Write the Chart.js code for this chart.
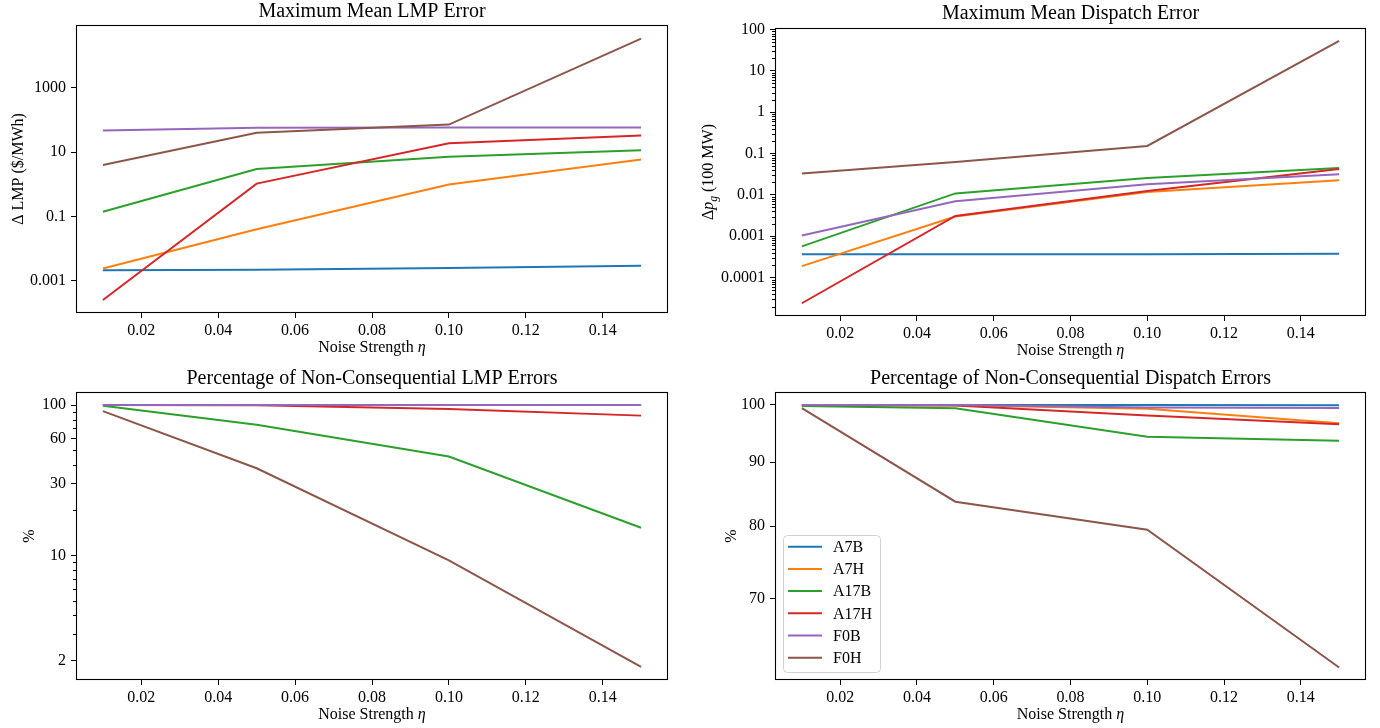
<!DOCTYPE html>
<html><head><meta charset="utf-8">
<script src="https://cdn.jsdelivr.net/npm/chart.js@4.4.1/dist/chart.umd.min.js"></script>
<style>
html,body{margin:0;padding:0;background:#fff;}
body{width:1380px;height:728px;position:relative;overflow:hidden;}
canvas{position:absolute;}
</style></head><body>
<canvas id="c1" width="690" height="364" style="left:0;top:0"></canvas>
<canvas id="c2" width="690" height="364" style="left:690px;top:0"></canvas>
<canvas id="c3" width="690" height="364" style="left:0;top:364px"></canvas>
<canvas id="c4" width="690" height="364" style="left:690px;top:364px"></canvas>
<script>
// ---------- data ----------
const noiseStrength = [0.01, 0.05, 0.10, 0.15];
const seriesNames = ['A7B', 'A7H', 'A17B', 'A17H', 'F0B', 'F0H'];
const seriesColors = ['#1f77b4', '#ff7f0e', '#2ca02c', '#d62728', '#9467bd', '#8c564b'];

// Maximum mean LMP error ($/MWh), one row per series
const lmpMaxError = [
  [0.0021, 0.0022, 0.0025, 0.0029],
  [0.0024, 0.040, 0.99, 5.9],
  [0.14, 3.0, 7.2, 11.5],
  [0.00025, 1.05, 19, 33],
  [47, 58, 59, 59],
  [4.0, 40, 72, 34000]
];
// Maximum mean dispatch error (100 MW)
const dispatchMaxError = [
  [0.00037, 0.00037, 0.00037, 0.00038],
  [0.00019, 0.0030, 0.0118, 0.0226],
  [0.00057, 0.0109, 0.0257, 0.045],
  [0.000024, 0.0031, 0.0124, 0.0424],
  [0.00105, 0.0070, 0.0181, 0.0316],
  [0.033, 0.063, 0.153, 53]
];
// Percentage of non-consequential LMP errors
const lmpPctNonConsequential = [
  [100, 100, 100, 100],
  [100, 100, 100, 100],
  [99, 74, 45.5, 15.3],
  [100, 99.5, 94, 85],
  [100, 100, 100, 100],
  [91, 38, 9.3, 1.82]
];
// Percentage of non-consequential dispatch errors
const dispatchPctNonConsequential = [
  [100, 100, 100, 99.95],
  [100, 99.95, 99.3, 96.7],
  [99.8, 99.4, 94.3, 93.6],
  [100, 99.9, 98.05, 96.5],
  [100, 100, 99.5, 99.45],
  [99.4, 83.7, 79.5, 61.7]
];

// ---------- ticks ----------
const xTicks = [0.02, 0.04, 0.06, 0.08, 0.10, 0.12, 0.14];
const xTickLabels = ['0.02', '0.04', '0.06', '0.08', '0.10', '0.12', '0.14'];
const lmpErrTicks = [0.001, 0.1, 10, 1000];
const lmpErrTickLabels = ['0.001', '0.1', '10', '1000'];
const dispErrTicks = [0.0001, 0.001, 0.01, 0.1, 1, 10, 100];
const dispErrTickLabels = ['0.0001', '0.001', '0.01', '0.1', '1', '10', '100'];
const lmpPctTicks = [2, 10, 30, 60, 100];
const lmpPctTickLabels = ['2', '10', '30', '60', '100'];
const lmpPctMinorTicks = [3, 4, 5, 6, 7, 8, 9, 20, 40, 50, 70, 80, 90];
const dispPctTicks = [70, 80, 90, 100];
const dispPctTickLabels = ['70', '80', '90', '100'];

const SERIF = '"Liberation Serif", "DejaVu Serif", serif';

function decadeMinorTicks(lo, hi) {
  const out = [];
  for (let k = Math.floor(Math.log10(lo)); k <= Math.ceil(Math.log10(hi)); k++) {
    for (let m = 2; m <= 9; m++) {
      const v = m * Math.pow(10, k);
      if (v >= lo && v <= hi) out.push(v);
    }
  }
  return out;
}

const decorPlugin = {
  id: 'decor',
  afterDraw(chart) {
    const o = chart.options.plugins.decor;
    const ctx = chart.ctx, a = chart.chartArea;
    ctx.save();
    // minor ticks
    ctx.strokeStyle = '#000'; ctx.lineWidth = 1;
    const ys = chart.scales.y;
    (o.minor || []).forEach(v => {
      const y = Math.round(ys.getPixelForValue(v)) + 0.5;
      ctx.beginPath(); ctx.moveTo(a.left, y); ctx.lineTo(a.left - 3, y); ctx.stroke();
    });
    // frame
    ctx.strokeStyle = '#000'; ctx.lineWidth = 1.1;
    ctx.strokeRect(a.left + 0.5, a.top + 0.5, a.right - a.left - 1, a.bottom - a.top - 1);
    // title
    ctx.fillStyle = '#000';
    ctx.font = '20px ' + SERIF;
    ctx.textAlign = 'center'; ctx.textBaseline = 'middle';
    ctx.fillText(o.title, (a.left + a.right) / 2, o.titleY);
    // x label
    drawParts(ctx, [{t: 'Noise Strength '}, {t: 'η', it: true}], (a.left + a.right) / 2, a.bottom + 35, 16, false);
    // y label
    drawParts(ctx, o.yLabel, o.yLabelX, (a.top + a.bottom) / 2, 16, true);
    // legend
    if (o.legend) {
      const L = o.legend;
      ctx.fillStyle = 'rgba(255,255,255,0.8)';
      ctx.strokeStyle = '#d0d0d0'; ctx.lineWidth = 1;
      roundRect(ctx, L.x + 0.5, L.y + 0.5, L.w, L.h, 4);
      ctx.fill(); ctx.stroke();
      chart.data.datasets.forEach((ds, i) => {
        const y = L.y + L.first + i * L.step;
        ctx.strokeStyle = ds.borderColor; ctx.lineWidth = 2;
        ctx.beginPath(); ctx.moveTo(L.x + 5, y); ctx.lineTo(L.x + 39, y); ctx.stroke();
        ctx.fillStyle = '#000';
        ctx.font = '16px ' + SERIF;
        ctx.textAlign = 'left'; ctx.textBaseline = 'middle';
        ctx.fillText(ds.label, L.x + 50, y + 1);
      });
    }
    ctx.restore();
  }
};

function roundRect(ctx, x, y, w, h, r) {
  ctx.beginPath();
  ctx.moveTo(x + r, y);
  ctx.lineTo(x + w - r, y); ctx.quadraticCurveTo(x + w, y, x + w, y + r);
  ctx.lineTo(x + w, y + h - r); ctx.quadraticCurveTo(x + w, y + h, x + w - r, y + h);
  ctx.lineTo(x + r, y + h); ctx.quadraticCurveTo(x, y + h, x, y + h - r);
  ctx.lineTo(x, y + r); ctx.quadraticCurveTo(x, y, x + r, y);
  ctx.closePath();
}

function drawParts(ctx, parts, cx, cy, size, rotate) {
  ctx.save();
  ctx.translate(cx, cy);
  if (rotate) ctx.rotate(-Math.PI / 2);
  ctx.textBaseline = 'middle'; ctx.textAlign = 'left'; ctx.fillStyle = '#000';
  const fontOf = p => (p.it ? 'italic ' : '') + (p.sub ? size * 0.72 : size) + 'px ' + SERIF;
  let w = 0;
  parts.forEach(p => { ctx.font = fontOf(p); w += ctx.measureText(p.t).width; });
  let x = -w / 2;
  parts.forEach(p => {
    ctx.font = fontOf(p);
    ctx.fillText(p.t, x, p.sub ? size * 0.3 : 0);
    x += ctx.measureText(p.t).width;
  });
  ctx.restore();
}

function makeChart(cfg) {
  const datasets = cfg.values.map((row, i) => ({
    label: seriesNames[i],
    data: noiseStrength.map((x, j) => ({x: x, y: row[j]})),
    borderColor: seriesColors[i],
    backgroundColor: seriesColors[i],
    borderWidth: 2,
    pointRadius: 0,
    tension: 0,
    fill: false,
    order: seriesNames.length - i
  }));
  const tickFont = {family: SERIF, size: 16};
  return new Chart(document.getElementById(cfg.id), {
    type: 'line',
    data: {datasets},
    plugins: [decorPlugin],
    options: {
      responsive: false,
      animation: false,
      events: [],
      layout: {padding: {left: 0, top: cfg.padTop, right: cfg.padRight, bottom: 0}},
      plugins: {
        legend: {display: false},
        tooltip: {enabled: false},
        title: {display: false},
        decor: {
          title: cfg.title, titleY: cfg.titleY, yLabel: cfg.yLabel, yLabelX: cfg.yLabelX,
          minor: cfg.minor, legend: cfg.legend
        }
      },
      scales: {
        x: {
          type: 'linear', min: 0.003, max: 0.157, bounds: 'data',
          afterBuildTicks: s => { s.ticks = xTicks.map(v => ({value: v})); },
          afterFit: s => { s.height = cfg.xHeight; },
          ticks: {autoSkip: false, maxRotation: 0, color: '#000', font: tickFont, padding: 3,
                  callback: (v, i) => xTickLabels[i]},
          grid: {display: true, drawOnChartArea: false, drawTicks: true, tickLength: 5, color: '#000', tickColor: '#000'},
          border: {display: false}
        },
        y: {
          type: 'logarithmic', min: cfg.yMin, max: cfg.yMax, bounds: 'data',
          afterBuildTicks: s => { s.ticks = cfg.yTicks.map(v => ({value: v})); },
          afterFit: s => { s.width = cfg.yWidth; },
          ticks: {autoSkip: false, color: '#000', font: tickFont, padding: 5,
                  callback: (v, i) => cfg.yTickLabels[i]},
          grid: {display: true, drawOnChartArea: false, drawTicks: true, tickLength: 5, color: '#000', tickColor: '#000'},
          border: {display: false}
        }
      }
    }
  });
}

makeChart({
  id: 'c1', title: 'Maximum Mean LMP Error', titleY: 12,
  values: lmpMaxError, yMin: 9.9e-5, yMax: 9.05e4,
  yTicks: lmpErrTicks, yTickLabels: lmpErrTickLabels, minor: [],
  padTop: 25, padRight: 22, yWidth: 76, xHeight: 51,
  yLabel: [{t: 'Δ LMP ($/MWh)'}], yLabelX: 19
});
makeChart({
  id: 'c2', title: 'Maximum Mean Dispatch Error', titleY: 14,
  values: dispatchMaxError, yMin: 1.18e-5, yMax: 109,
  yTicks: dispErrTicks, yTickLabels: dispErrTickLabels, minor: decadeMinorTicks(1.18e-5, 109),
  padTop: 28, padRight: 14, yWidth: 85, xHeight: 48,
  yLabel: [{t: 'Δ'}, {t: 'p', it: true}, {t: 'g', it: true, sub: true}, {t: ' (100 MW)'}], yLabelX: 19
});
makeChart({
  id: 'c3', title: 'Percentage of Non-Consequential LMP Errors', titleY: 15,
  values: lmpPctNonConsequential, yMin: 1.49, yMax: 122,
  yTicks: lmpPctTicks, yTickLabels: lmpPctTickLabels, minor: lmpPctMinorTicks,
  padTop: 28, padRight: 22, yWidth: 76, xHeight: 48,
  yLabel: [{t: '%'}], yLabelX: 30
});
makeChart({
  id: 'c4', title: 'Percentage of Non-Consequential Dispatch Errors', titleY: 15,
  values: dispatchPctNonConsequential, yMin: 60.3, yMax: 102.4,
  yTicks: dispPctTicks, yTickLabels: dispPctTickLabels, minor: [],
  padTop: 28, padRight: 14, yWidth: 85, xHeight: 48,
  yLabel: [{t: '%'}], yLabelX: 42,
  legend: {x: 93, y: 171, w: 97, h: 137, first: 11.7, step: 22.2}
});
</script>
</body></html>
